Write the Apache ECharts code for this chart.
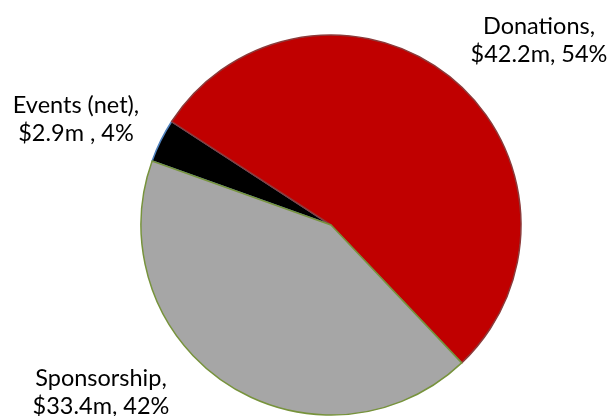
<!DOCTYPE html>
<html>
<head>
<meta charset="utf-8">
<script src="https://cdn.jsdelivr.net/npm/echarts@6/dist/echarts.min.js"></script>
<style>
  html, body { margin: 0; padding: 0; background: #fff; }
  #chart { width: 611px; height: 416px; }
</style>
</head>
<body>
<div id="chart"></div>
<script>
// Income sources ($m), listed clockwise starting with the small events slice
const categories = ['Events (net)', 'Donations', 'Sponsorship'];
const amounts = [2.9, 42.2, 33.4];
const amountText = ['$2.9m ', '$42.2m', '$33.4m'];
const shareText = ['4%', '54%', '42%'];

const fillColors = ['#000000', '#C00000', '#A6A6A6'];
const edgeColors = ['#4F81BD', '#8C3A3A', '#77933C'];

// Where each two-line caption sits (block centre)
const captionPos = [[76, 119], [539, 40], [101, 392]];

const chart = echarts.init(document.getElementById('chart'));

const data = categories.map((name, i) => ({
  name: name,
  value: amounts[i],
  itemStyle: { color: fillColors[i], borderColor: edgeColors[i], borderWidth: 1.5 },
  label: { formatter: name + ',\n' + amountText[i] + ', ' + shareText[i] }
}));

chart.setOption({
  animation: false,
  backgroundColor: '#ffffff',
  series: [{
    type: 'pie',
    center: [331, 225],
    radius: 190,
    startAngle: 160.3,
    clockwise: true,
    avoidLabelOverlap: false,
    data: data,
    label: {
      show: true,
      position: 'outside',
      color: '#000000',
      fontFamily: 'Lato',
      fontSize: 23.5,
      lineHeight: 28,
      align: 'center'
    },
    labelLine: { show: false },
    labelLayout: function (params) {
      const p = captionPos[params.dataIndex];
      return { x: p[0], y: p[1], align: 'center', verticalAlign: 'middle' };
    },
    emphasis: { disabled: true }
  }]
});
</script>
</body>
</html>
